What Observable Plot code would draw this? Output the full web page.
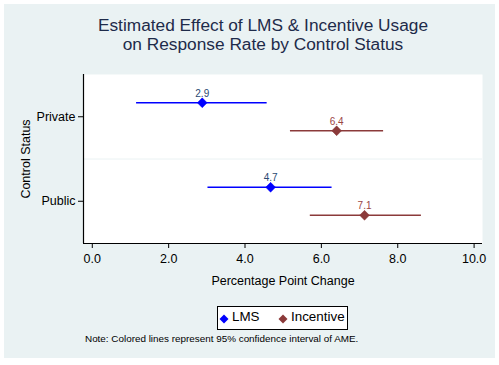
<!DOCTYPE html>
<html>
<head>
<meta charset="utf-8">
<script src="https://cdn.jsdelivr.net/npm/d3@7"></script>
<script src="https://cdn.jsdelivr.net/npm/@observablehq/plot@0.6"></script>
<style>
  html, body { margin: 0; padding: 0; background: #ffffff; }
  #page { position: relative; width: 499px; height: 365px; overflow: hidden; font-family: Arial, "Liberation Sans", sans-serif; }
  #bg { position: absolute; left: 4px; top: 4px; width: 491px; height: 354px; background: #EAF2F3; }
  #title { position: absolute; left: 0; width: 526px; top: 16px; text-align: center; font-size: 17.3px; line-height: 19px; color: #1e2b4a; }
  #chart { position: absolute; left: 4px; top: 60px; }
  #legend { position: absolute; left: 217px; top: 306px; width: 129px; height: 22px; background: #fff; border: 1px solid #000; font-size: 13.4px; color: #000; }
  #legend span.item { position: absolute; top: 2px; white-space: nowrap; }
  #note { position: absolute; left: 85px; top: 333px; font-size: 9.9px; color: #000; white-space: nowrap; }
</style>
</head>
<body>
<div id="page">
  <div id="bg"></div>
  <div id="title">Estimated Effect of LMS &amp; Incentive Usage<br>on Response Rate by Control Status</div>
  <div id="chart"></div>
  <div id="legend"></div>
  <div id="note">Note: Colored lines represent 95% confidence interval of AME.</div>
</div>
<script>
const categories = ["Private", "Public"];
const seriesNames = ["LMS", "Incentive"];
const seriesColors = ["#0000FF", "#8B3A3A"];
const labelColors = ["#2a4a72", "#9a4545"];
// values per category [Private, Public]
const lmsEstimate = [2.88, 4.67];
const lmsLow = [1.16, 3.03];
const lmsHigh = [4.58, 6.28];
const incEstimate = [6.4, 7.13];
const incLow = [5.19, 5.71];
const incHigh = [7.63, 8.62];
const xTicks = [0, 2, 4, 6, 8, 10];

const rows = [];
categories.forEach((c, i) => {
  rows.push({cat: i, series: 0, est: lmsEstimate[i], lo: lmsLow[i], hi: lmsHigh[i]});
  rows.push({cat: i, series: 1, est: incEstimate[i], lo: incLow[i], hi: incHigh[i]});
});

const off = 14;
const W = 491, H = 240;
const mL = 79, mR = 13, mT = 14, mB = 57;

const marks = [];
marks.push(Plot.frame({fill: "white", stroke: null}));
marks.push(Plot.ruleY([0.5], {stroke: "#EAF2F3", strokeWidth: 1}));
for (let s = 0; s < 2; s++) {
  const d = rows.filter(r => r.series === s);
  const dy = s === 0 ? -off : off;
  marks.push(Plot.ruleY(d, {y: "cat", x1: "lo", x2: "hi", dy, stroke: seriesColors[s], strokeWidth: 1.3}));
  marks.push(Plot.dot(d, {x: "est", y: "cat", dy, symbol: d3.symbolDiamond2, r: 4.4, fill: seriesColors[s], stroke: seriesColors[s], strokeWidth: 0.5}));
  marks.push(Plot.text(d, {x: "est", y: "cat", dy: dy - 9, text: r => d3.format(".1f")(r.est), fill: labelColors[s], fontSize: 10, fontFamily: "Arial, sans-serif"}));
}
marks.push(Plot.ruleX([-0.23], {stroke: "#000", strokeWidth: 1.2}));
marks.push(Plot.ruleY([1.5], {stroke: "#000", strokeWidth: 1.2}));
marks.push(Plot.axisX({ticks: xTicks, tickFormat: d3.format(".1f"), tickSize: 5, tickPadding: 6, stroke: "#000", color: "#000",
  label: "Percentage Point Change", labelAnchor: "center", labelArrow: "none", labelOffset: 41, fontSize: 12.5}));
marks.push(Plot.axisY({ticks: [0, 1], tickFormat: i => categories[i], tickSize: 5, tickPadding: 3, fontSize: 12.5, stroke: "#000", color: "#000",
  label: "Control Status", labelAnchor: "center", labelArrow: "none", labelOffset: 62}));

const chart = Plot.plot({
  width: W, height: H,
  marginLeft: mL, marginRight: mR, marginTop: mT, marginBottom: mB,
  style: {background: "transparent", fontFamily: "Arial, 'Liberation Sans', sans-serif", fontSize: "12.5px", color: "#000"},
  x: {domain: [-0.23, 10.22]},
  y: {domain: [1.5, -0.5]},
  marks
});
document.getElementById("chart").appendChild(chart);

// legend
const legend = document.getElementById("legend");
const items = [{x: 1, tx: 14}, {x: 60, tx: 73}];
seriesNames.forEach((n, i) => {
  const sym = document.createElement("span");
  sym.className = "item";
  sym.style.left = items[i].x + "px";
  sym.style.top = "5px";
  sym.innerHTML = `<svg width="10" height="10"><path d="M5 0.5 L9.5 5 L5 9.5 L0.5 5 Z" fill="${seriesColors[i]}"/></svg>`;
  legend.appendChild(sym);
  const t = document.createElement("span");
  t.className = "item";
  t.style.left = items[i].tx + "px";
  t.textContent = n;
  legend.appendChild(t);
});
</script>
</body>
</html>
